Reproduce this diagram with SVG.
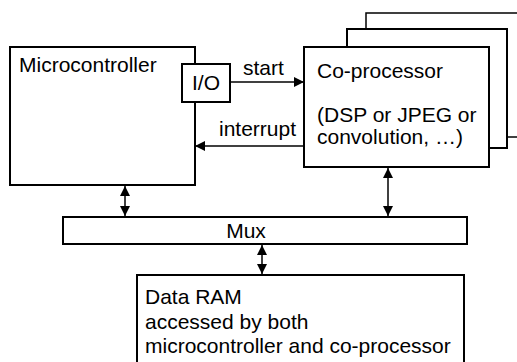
<svg xmlns="http://www.w3.org/2000/svg" width="517" height="362" viewBox="0 0 517 362">
<style>
.box{fill:#fff;stroke:#000;stroke-width:2}
.t{font-family:"Liberation Sans",Arial,sans-serif;font-size:21px;fill:#000}
.c{fill:none;stroke:#000;stroke-width:1.5}
</style>
<defs>
<marker id="ah" viewBox="0 0 10 10" refX="10" refY="5" markerWidth="10" markerHeight="10" markerUnits="userSpaceOnUse" orient="auto-start-reverse">
<path d="M0,0 L10,5 L0,10 z" fill="#000"/>
</marker>
</defs>
<rect width="517" height="362" fill="#fff"/>
<g id="coproc-stack">
<rect x="366" y="13" width="200" height="124" fill="#fff" stroke="#000" stroke-width="1.5"/>
<rect class="box" x="347" y="29" width="160" height="119"/>
</g>
<g id="microcontroller">
<rect class="box" x="10" y="47" width="185" height="138"/>
<text class="t" x="19" y="72">Microcontroller</text>
</g>
<g id="io">
<rect class="box" x="182" y="64" width="48" height="38"/>
<text class="t" x="206" y="90" text-anchor="middle">I/O</text>
</g>
<g id="coprocessor">
<rect class="box" x="304" y="47" width="185" height="120"/>
<text class="t" x="317" y="78">Co-processor</text>
<text class="t" x="317" y="122">(DSP or JPEG or</text>
<text class="t" x="317" y="144">convolution, …)</text>
</g>
<g id="mux">
<rect class="box" x="63" y="217" width="404" height="27"/>
<text class="t" x="246" y="238" text-anchor="middle">Mux</text>
</g>
<g id="dataram">
<rect class="box" x="137" y="275" width="327" height="100"/>
<text class="t" x="145" y="304">Data RAM</text>
<text class="t" x="145" y="329">accessed by both</text>
<text class="t" x="145" y="353">microcontroller and co-processor</text>
</g>
<g id="connectors">
<line class="c" x1="230" y1="82" x2="304" y2="82" marker-end="url(#ah)"/>
<text class="t" x="243" y="75">start</text>
<line class="c" x1="304" y1="146" x2="195" y2="146" marker-end="url(#ah)"/>
<text class="t" x="219" y="136">interrupt</text>
<line class="c" x1="125" y1="186" x2="125" y2="216" marker-start="url(#ah)" marker-end="url(#ah)"/>
<line class="c" x1="388" y1="168" x2="388" y2="216" marker-start="url(#ah)" marker-end="url(#ah)"/>
<line class="c" x1="262" y1="245" x2="262" y2="274" marker-start="url(#ah)" marker-end="url(#ah)"/>
</g>
</svg>
